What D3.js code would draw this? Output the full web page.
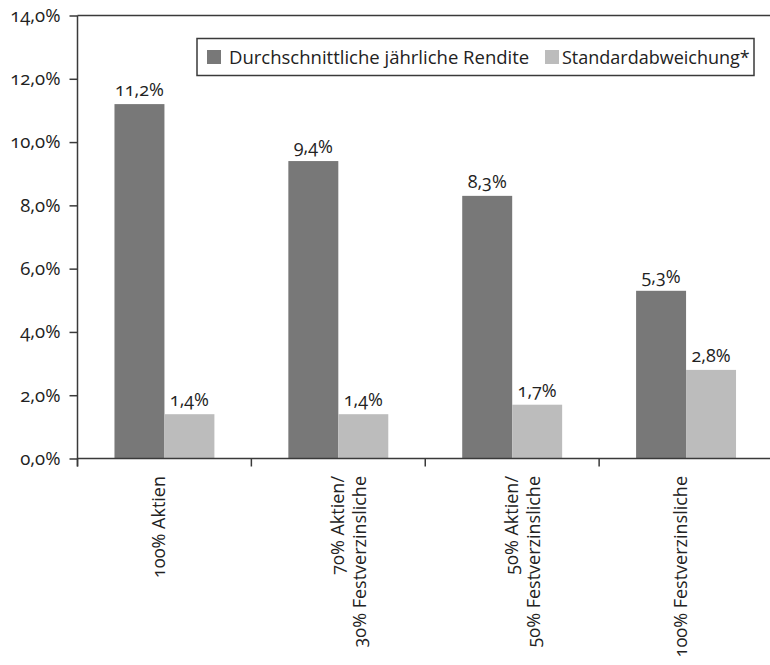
<!DOCTYPE html>
<html>
<head>
<meta charset="utf-8">
<script src="https://cdn.jsdelivr.net/npm/d3@7"></script>
<style>
  html, body { margin: 0; padding: 0; background: #fff; }
  svg { display: block; }
  text { font-family: "Open Sans", "Noto Sans", sans-serif; fill: #222; font-variant-numeric: oldstyle-nums; }
</style>
</head>
<body>
<svg id="chart" width="770" height="665"></svg>
<script>
// Anlagemix: Rendite und Schwankung
const categories = [
  "100% Aktien",
  "70% Aktien/\n30% Festverzinsliche",
  "50% Aktien/\n50% Festverzinsliche",
  "100% Festverzinsliche"
];
const seriesNames = ["Durchschnittliche jährliche Rendite", "Standardabweichung*"];
const rendite = [11.2, 9.4, 8.3, 5.3];
const standardabweichung = [1.4, 1.4, 1.7, 2.8];
const yTicks = [0, 2, 4, 6, 8, 10, 12, 14];
const colors = ["#787878", "#bcbcbc"];

const svg = d3.select("#chart");
const plotLeft = 77.5, plotRight = 773, plotTop = 15.5, plotBottom = 458.5;
const axisColor = "#3a3a3a";

const fmt = v => d3.format(".1f")(v).replace(".", ",") + "%";

const x0 = d3.scaleBand().domain(categories).range([plotLeft, plotRight]).paddingInner(0).paddingOuter(0);
const x1 = d3.scaleBand().domain(seriesNames).range([0, x0.bandwidth()]).paddingInner(0).paddingOuter(0.74);
const y = d3.scaleLinear().domain([0, 14]).range([plotBottom, plotTop]);

const rows = categories.map((c, i) => ({ cat: c, values: [rendite[i], standardabweichung[i]] }));

// Balken
const groups = svg.append("g").selectAll("g").data(rows).join("g")
  .attr("transform", d => `translate(${x0(d.cat)},0)`);

groups.selectAll("rect").data(d => d.values.map((v, k) => ({ s: seriesNames[k], v, k })))
  .join("rect")
  .attr("x", d => x1(d.s))
  .attr("width", x1.bandwidth())
  .attr("y", d => y(d.v))
  .attr("height", d => y(0) - y(d.v))
  .attr("fill", d => colors[d.k]);

// Wertbeschriftungen
groups.selectAll("text.val").data(d => d.values.map((v, k) => ({ s: seriesNames[k], v, k })))
  .join("text")
  .attr("class", "val")
  .attr("x", d => x1(d.s) + x1.bandwidth() / 2)
  .attr("y", d => y(d.v) - 8)
  .attr("text-anchor", "middle")
  .style("font-size", "18px")
  .text(d => fmt(d.v));

// Y-Achse
const yAxis = d3.axisLeft(y).tickValues(yTicks).tickFormat(fmt).tickSize(8).tickSizeOuter(0).tickPadding(9);
const yg = svg.append("g").attr("transform", `translate(${plotLeft},0)`).call(yAxis);
yg.select(".domain").remove();
yg.selectAll(".tick line").attr("stroke", axisColor).attr("stroke-width", 1.5);
yg.selectAll(".tick text").style("font-size", "18.5px").attr("fill", "#222");

// Achsenlinien (links, oben, unten)
svg.append("line").attr("x1", plotLeft).attr("x2", plotLeft).attr("y1", plotTop).attr("y2", plotBottom + 8)
  .attr("stroke", axisColor).attr("stroke-width", 1.5);
svg.append("line").attr("x1", plotLeft).attr("x2", plotRight).attr("y1", plotTop).attr("y2", plotTop)
  .attr("stroke", axisColor).attr("stroke-width", 1.5);
svg.append("line").attr("x1", plotLeft).attr("x2", plotRight).attr("y1", plotBottom).attr("y2", plotBottom)
  .attr("stroke", axisColor).attr("stroke-width", 1.5);

// Kategorie-Trennstriche
const bounds = categories.map(c => x0(c)).concat([x0(categories[categories.length - 1]) + x0.bandwidth()]);
svg.append("g").selectAll("line").data(bounds).join("line")
  .attr("x1", d => d).attr("x2", d => d)
  .attr("y1", plotBottom).attr("y2", plotBottom + 8)
  .attr("stroke", axisColor).attr("stroke-width", 1.5);

// Kategoriebeschriftungen (gedreht)
const catLabels = svg.append("g").selectAll("text").data(categories).join("text")
  .attr("transform", d => `translate(${x0(d) + x0.bandwidth() / 2},476) rotate(-90)`)
  .attr("text-anchor", "end")
  .style("font-size", "18px");
catLabels.each(function (d) {
  const lines = d.split("\n");
  const base = lines.length > 1 ? 6 : 1;
  d3.select(this).selectAll("tspan").data(lines).join("tspan")
    .attr("x", 0)
    .attr("y", (l, i) => base + i * 22)
    .text(l => l);
});

// Legende
const lg = svg.append("g");
lg.append("rect").attr("x", 197).attr("y", 38.5).attr("width", 557).attr("height", 37)
  .attr("fill", "#fff").attr("stroke", axisColor).attr("stroke-width", 1.5);
const legendPos = [{ sx: 207, tx: 229, fs: 18.5 }, { sx: 545, tx: 562, fs: 18 }];
seriesNames.forEach((name, k) => {
  lg.append("rect").attr("x", legendPos[k].sx).attr("y", 50).attr("width", 14).attr("height", 14)
    .attr("fill", colors[k]);
  lg.append("text").attr("x", legendPos[k].tx).attr("y", 63.5)
    .style("font-size", legendPos[k].fs + "px").text(name);
});
</script>
</body>
</html>
